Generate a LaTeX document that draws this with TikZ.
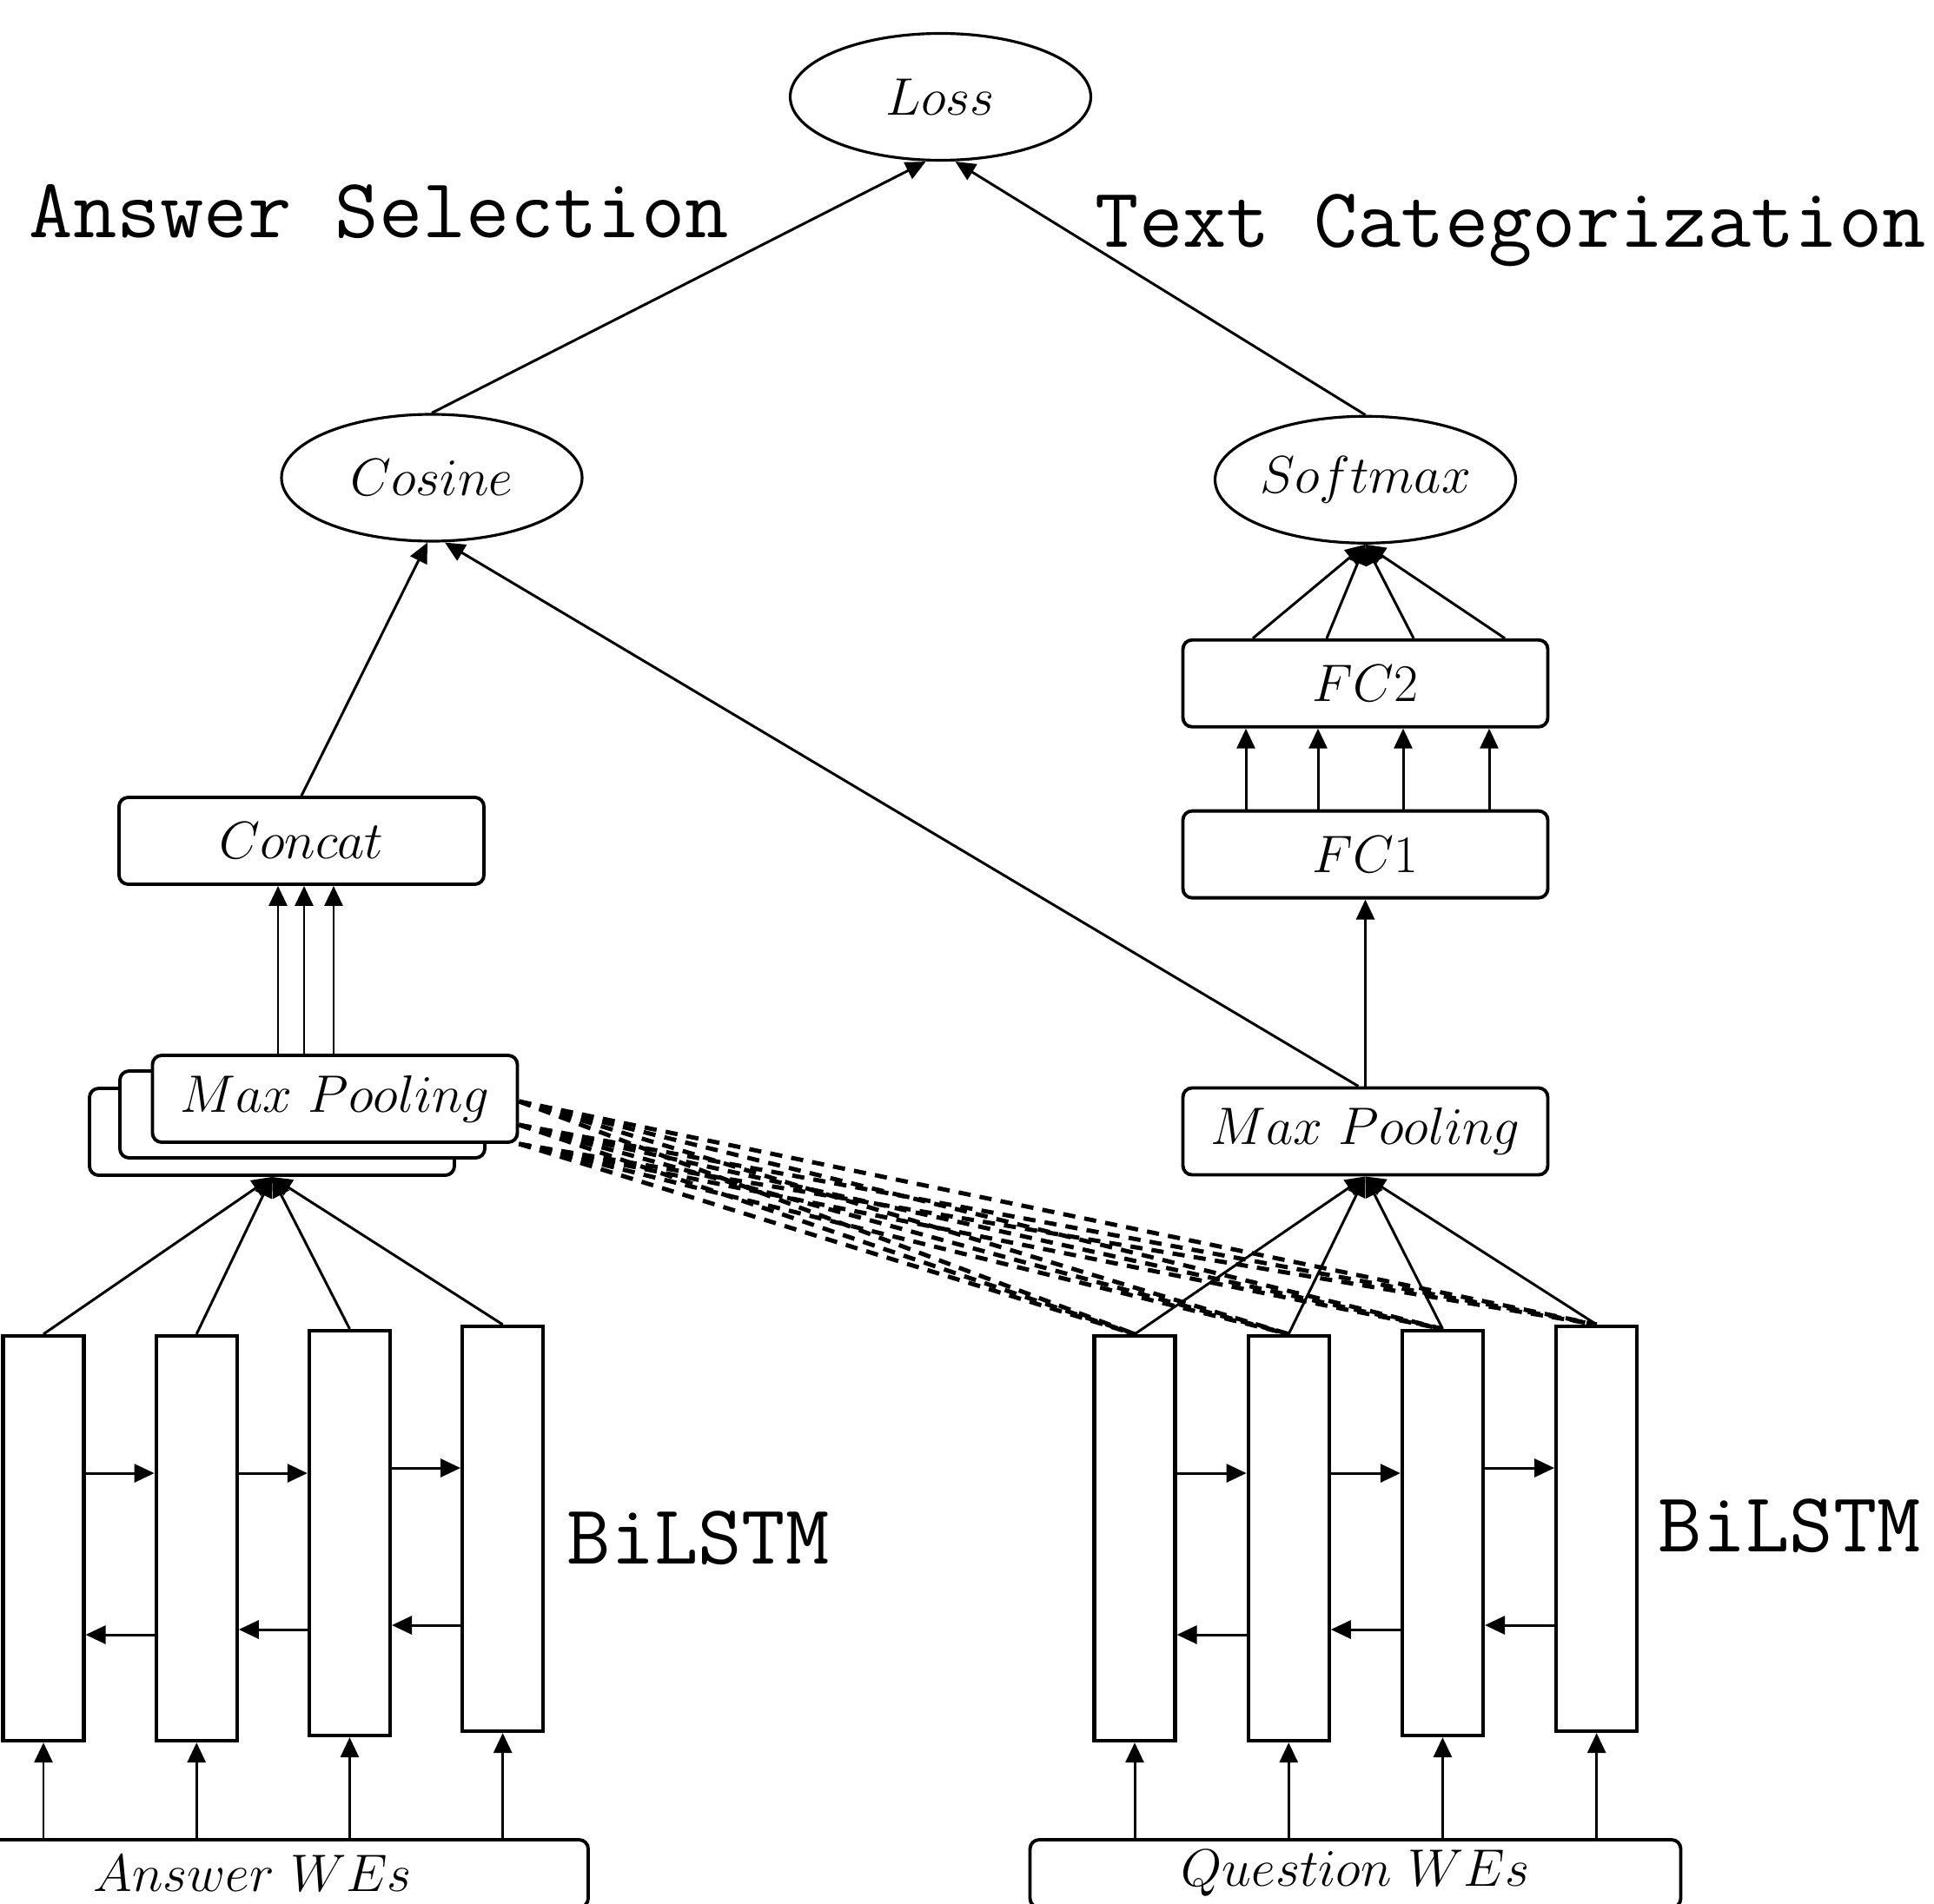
\documentclass[tikz,border=0pt]{standalone}
\usepackage{fontspec}
\usepackage{amsmath}
\usetikzlibrary{arrows.meta,positioning,shapes.geometric}
\tikzset{
  cellbox/.style={
    draw,
    line width=1.2pt,
    minimum width=0.93cm,
    minimum height=4.66cm,
    inner sep=0pt
  },
  layerbox/.style={
    draw,
    line width=1.1pt,
    fill=white,
    rounded corners=3pt,
    minimum width=4.2cm,
    minimum height=1cm,
    inner sep=0pt,
    font=\LARGE
  },
  inputbox/.style={
    draw,
    line width=1.1pt,
    rounded corners=3pt,
    inner sep=0pt,
    font=\LARGE
  },
  scorenode/.style={
    ellipse,
    draw,
    line width=0.9pt,
    minimum width=3.46cm,
    minimum height=1.46cm,
    inner sep=0pt,
    font=\LARGE
  },
  tasklabel/.style={anchor=base west, inner sep=0pt, font=\fontsize{27.8}{31}\selectfont\ttfamily},
  flowarrow/.style={-{Triangle[length=2.3mm,width=2.1mm]}, line width=0.85pt},
  attnline/.style={line width=1.4pt, dash pattern=on 4pt off 3pt}
}

\begin{document}
\begin{tikzpicture}
\useasboundingbox (0,0) rectangle (22.26,-21.91);
\clip (0,0) rectangle (22.26,-21.91);

% task titles
\node[tasklabel] (astitle) at (0.33,-2.74) {Answer Selection};
\node[tasklabel] (tctitle) at (12.60,-2.84) {Text Categorization};

% shared loss and the answer selection head
\node[scorenode] (loss) at (10.825,-1.115) {$Loss$};
\node[scorenode] (cosine) at (4.97,-5.50) {$Cosine$};
\node[layerbox] (concat) at (3.47,-9.68) {$Concat$};

% stacked pooling maps, answer side
\node[layerbox] (mpback) at (3.13,-13.03) {};
\node[layerbox] (mpmid) at ([shift={(0.35,0.2)}]mpback) {};
\node[layerbox] (mpfront) at ([shift={(0.375,0.18)}]mpmid) {$Max\ Pooling$};

% question side, text categorization head
\node[layerbox] (qpool) at (15.715,-13.025) {$Max\ Pooling$};
\node[layerbox, above=2.15cm of qpool] (fc1) {$FC1$};
\node[layerbox, above=0.93cm of fc1] (fc2) {$FC2$};
\node[scorenode, above=1.08cm of fc2] (softmax) {$Softmax$};

% answer BiLSTM cells
\node[cellbox] (a1) at (0.50,-17.71) {};
\node[cellbox, right=0.79cm of a1] (a2) {};
\node[cellbox, right=0.79cm of a2, yshift=0.06cm] (a3) {};
\node[cellbox, right=0.79cm of a3, yshift=0.05cm] (a4) {};
\node[tasklabel] (alstm) at (6.52,-18.00) {BiLSTM};

% question BiLSTM cells
\node[cellbox] (q1) at (13.06,-17.71) {};
\node[cellbox, right=0.80cm of q1] (q2) {};
\node[cellbox, right=0.80cm of q2, yshift=0.06cm] (q3) {};
\node[cellbox, right=0.80cm of q3, yshift=0.05cm] (q4) {};
\node[tasklabel] (qlstm) at (19.08,-17.86) {BiLSTM};

% word embeddings
\node[inputbox, minimum width=7.72cm, minimum height=0.78cm] (awes) at (2.91,-21.57) {$Answer\ WEs$};
\node[inputbox, minimum width=7.49cm, minimum height=0.78cm] (qwes) at (15.6,-21.57) {$Question\ WEs$};

% embeddings into cells
\draw[flowarrow] (a1.south |- awes.north) -- (a1.south);
\draw[flowarrow] (a2.south |- awes.north) -- (a2.south);
\draw[flowarrow] (a3.south |- awes.north) -- (a3.south);
\draw[flowarrow] (a4.south |- awes.north) -- (a4.south);
\draw[flowarrow] (q1.south |- qwes.north) -- (q1.south);
\draw[flowarrow] (q2.south |- qwes.north) -- (q2.south);
\draw[flowarrow] (q3.south |- qwes.north) -- (q3.south);
\draw[flowarrow] (q4.south |- qwes.north) -- (q4.south);

% forward and backward recurrences
\draw[flowarrow] ([yshift=0.75cm]a1.east) -- ([yshift=0.75cm]a1.east -| a2.west);
\draw[flowarrow] ([yshift=0.75cm]a2.east) -- ([yshift=0.75cm]a2.east -| a3.west);
\draw[flowarrow] ([yshift=0.75cm]a3.east) -- ([yshift=0.75cm]a3.east -| a4.west);
\draw[flowarrow] ([yshift=-1.11cm]a2.west) -- ([yshift=-1.11cm]a2.west -| a1.east);
\draw[flowarrow] ([yshift=-1.11cm]a3.west) -- ([yshift=-1.11cm]a3.west -| a2.east);
\draw[flowarrow] ([yshift=-1.11cm]a4.west) -- ([yshift=-1.11cm]a4.west -| a3.east);
\draw[flowarrow] ([yshift=0.75cm]q1.east) -- ([yshift=0.75cm]q1.east -| q2.west);
\draw[flowarrow] ([yshift=0.75cm]q2.east) -- ([yshift=0.75cm]q2.east -| q3.west);
\draw[flowarrow] ([yshift=0.75cm]q3.east) -- ([yshift=0.75cm]q3.east -| q4.west);
\draw[flowarrow] ([yshift=-1.11cm]q2.west) -- ([yshift=-1.11cm]q2.west -| q1.east);
\draw[flowarrow] ([yshift=-1.11cm]q3.west) -- ([yshift=-1.11cm]q3.west -| q2.east);
\draw[flowarrow] ([yshift=-1.11cm]q4.west) -- ([yshift=-1.11cm]q4.west -| q3.east);

% cells into pooling
\draw[flowarrow] (a1.north) -- (mpback.south);
\draw[flowarrow] (a2.north) -- (mpback.south);
\draw[flowarrow] (a3.north) -- (mpback.south);
\draw[flowarrow] (a4.north) -- (mpback.south);
\draw[flowarrow] (q1.north) -- (qpool.south);
\draw[flowarrow] (q2.north) -- (qpool.south);
\draw[flowarrow] (q3.north) -- (qpool.south);
\draw[flowarrow] (q4.north) -- (qpool.south);

% attention from the answer pooling maps to the question cells
\coordinate (att1) at ([yshift=-0.03cm]mpfront.east);
\coordinate (att2) at ([yshift=-0.3cm]mpfront.east);
\coordinate (att3) at (mpfront.south east);
\draw[attnline] (att1) -- (q1.north);
\draw[attnline] (att1) -- (q2.north);
\draw[attnline] (att1) -- (q3.north);
\draw[attnline] (att1) -- (q4.north);
\draw[attnline] (att2) -- (q1.north);
\draw[attnline] (att2) -- (q2.north);
\draw[attnline] (att2) -- (q3.north);
\draw[attnline] (att2) -- (q4.north);
\draw[attnline] (att3) -- (q1.north);
\draw[attnline] (att3) -- (q2.north);
\draw[attnline] (att3) -- (q3.north);
\draw[attnline] (att3) -- (q4.north);

% answer head
\draw[flowarrow] ([xshift=-0.27cm]concat.south |- mpfront.north) -- ([xshift=-0.27cm]concat.south);
\draw[flowarrow] ([xshift=0.03cm]concat.south |- mpfront.north) -- ([xshift=0.03cm]concat.south);
\draw[flowarrow] ([xshift=0.37cm]concat.south |- mpfront.north) -- ([xshift=0.37cm]concat.south);
\draw[flowarrow] (concat.north) -- ([xshift=-0.05cm]cosine.south);
\draw[flowarrow] ([xshift=-0.08cm]qpool.north) -- ([xshift=0.15cm]cosine.south);

% categorization head
\draw[flowarrow] (qpool.north) -- (qpool.north |- fc1.south);
\draw[flowarrow] ([xshift=-1.375cm]fc1.north) -- ([xshift=-1.375cm]fc1.north |- fc2.south);
\draw[flowarrow] ([xshift=-0.545cm]fc1.north) -- ([xshift=-0.545cm]fc1.north |- fc2.south);
\draw[flowarrow] ([xshift=0.435cm]fc1.north) -- ([xshift=0.435cm]fc1.north |- fc2.south);
\draw[flowarrow] ([xshift=1.425cm]fc1.north) -- ([xshift=1.425cm]fc1.north |- fc2.south);
\draw[flowarrow] ([xshift=-1.295cm]fc2.north) -- (softmax.south);
\draw[flowarrow] ([xshift=-0.445cm]fc2.north) -- (softmax.south);
\draw[flowarrow] ([xshift=0.555cm]fc2.north) -- (softmax.south);
\draw[flowarrow] ([xshift=1.605cm]fc2.north) -- (softmax.south);

% both heads into the loss
\draw[flowarrow] (cosine.north) -- ([xshift=-0.17cm]loss.south);
\draw[flowarrow] (softmax.north) -- ([xshift=0.17cm]loss.south);
\end{tikzpicture}
\end{document}
